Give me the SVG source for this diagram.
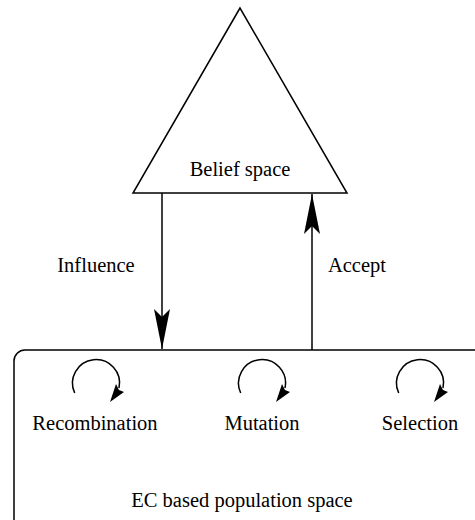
<svg xmlns="http://www.w3.org/2000/svg" width="475" height="520" viewBox="0 0 475 520">
<style>
.ln{fill:none;stroke:#000;stroke-width:1.5}
.t{font-family:"Liberation Serif","Times New Roman",Times,serif;font-size:20.5px;fill:#000;text-anchor:middle}
</style>
<defs>
<marker id="ah" viewBox="-42 -10 44 20" refX="0" refY="0" markerWidth="44" markerHeight="20" markerUnits="userSpaceOnUse" orient="auto">
<path d="M0,0 L-40,-8 L-32,0 L-40,8 Z" fill="#000"/>
</marker>
<g id="cyc">
<path class="ln" d="M-21.3,10 A23.5,23.5 0 1 1 23,5"/>
<path d="M14,19 L20,1 L23,7 L28,9 Z" fill="#000"/>
</g>
</defs>
<rect width="475" height="520" fill="#fff"/>
<g id="belief">
<polygon class="ln" points="240,8 133,193 347,193"/>
<text class="t" x="240" y="176">Belief space</text>
</g>
<g id="population">
<rect class="ln" x="14" y="350" width="480" height="200" rx="11"/>
<text class="t" x="242" y="507">EC based population space</text>
</g>
<g id="recombination">
<use href="#cyc" transform="translate(96,383)"/>
<text class="t" x="95" y="430">Recombination</text>
</g>
<g id="mutation">
<use href="#cyc" transform="translate(262,383)"/>
<text class="t" x="262" y="430">Mutation</text>
</g>
<g id="selection">
<use href="#cyc" transform="translate(420,383)"/>
<text class="t" x="420" y="430">Selection</text>
</g>
<g id="connectors">
<line class="ln" x1="162" y1="193" x2="162" y2="349" marker-end="url(#ah)"/>
<text class="t" x="96" y="272">Influence</text>
<line class="ln" x1="312" y1="350" x2="312" y2="194" marker-end="url(#ah)"/>
<text class="t" x="357" y="272">Accept</text>
</g>
</svg>
